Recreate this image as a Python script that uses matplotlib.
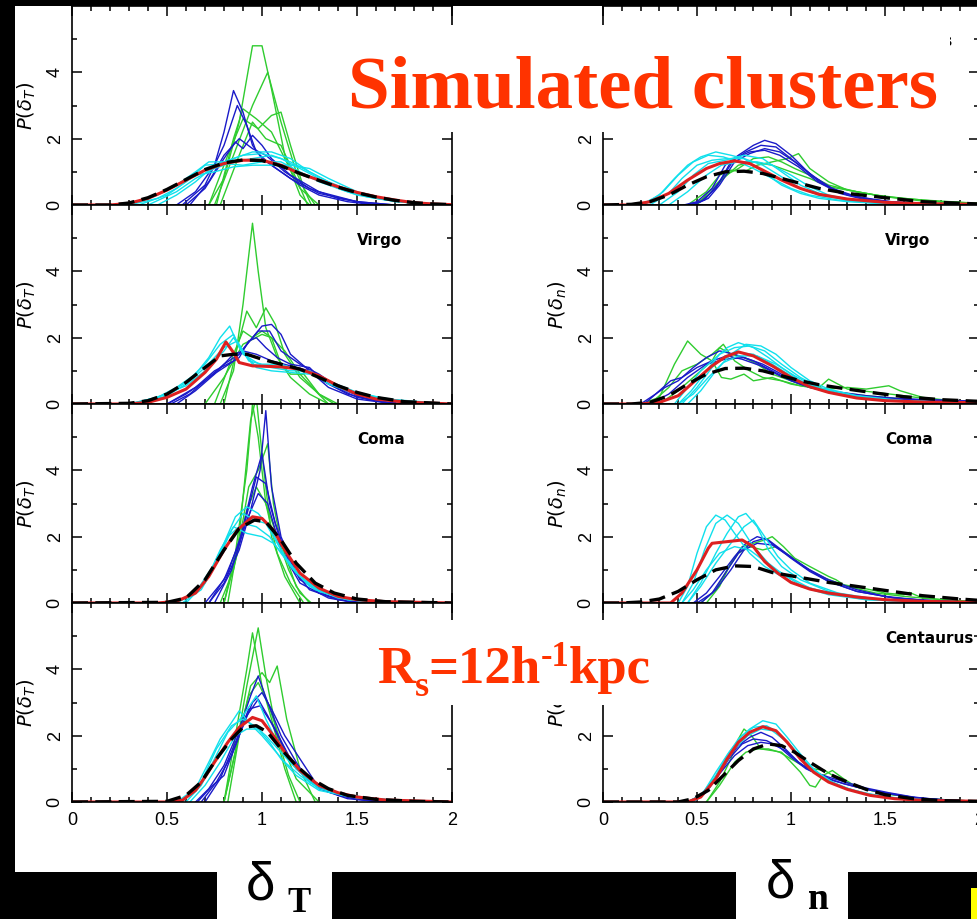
import matplotlib
matplotlib.use('Agg')
import matplotlib.pyplot as plt
from matplotlib.patches import Rectangle
from matplotlib.ticker import FixedLocator, MultipleLocator

plt.rcParams['font.family'] = ['Liberation Sans', 'DejaVu Sans']

# ---------------- data ----------------
PANEL_NAMES = ['Perseus', 'Virgo', 'Coma', 'Centaurus']
XTICKS = [0, 0.5, 1, 1.5, 2]
XTICK_LABELS = ['0', '0.5', '1', '1.5', '2']
YTICKS = [0, 2, 4]
YTICK_LABELS = ['0', '2', '4']

# ---- left column: P(delta_T) ----
L1_GREEN = [
    [(0.72, 0), (0.8, 0.8), (0.88, 2.5), (0.95, 4.8), (1.0, 4.8), (1.05, 3.5), (1.12, 1.5), (1.2, 0.3), (1.25, 0)],
    [(0.75, 0), (0.85, 1.5), (0.95, 3.0), (1.03, 4.0), (1.1, 2.5), (1.18, 1.0), (1.26, 0)],
    [(0.72, 0), (0.82, 1.5), (0.9, 2.6), (0.98, 2.3), (1.05, 2.7), (1.1, 2.8), (1.15, 1.8), (1.22, 0.5), (1.28, 0)],
    [(0.76, 0), (0.85, 2.0), (0.9, 2.9), (0.97, 2.6), (1.05, 2.2), (1.12, 1.4), (1.2, 0.5), (1.3, 0)],
    [(0.78, 0), (0.88, 1.5), (0.95, 2.5), (1.02, 2.0), (1.1, 1.8), (1.18, 0.8), (1.24, 0)],
]
L1_BLUE = [
    [(0.55, 0), (0.65, 0.4), (0.75, 1.2), (0.8, 2.2), (0.85, 3.45), (0.9, 2.8), (0.95, 1.8), (1.0, 1.4), (1.1, 1.0), (1.2, 0.6), (1.3, 0.3), (1.45, 0.1), (1.6, 0)],
    [(0.58, 0), (0.7, 0.6), (0.8, 1.8), (0.87, 3.0), (0.92, 2.4), (0.97, 1.6), (1.05, 1.2), (1.15, 0.8), (1.3, 0.35), (1.5, 0.1), (1.7, 0)],
    [(0.6, 0), (0.7, 0.5), (0.8, 1.4), (0.86, 1.9), (0.9, 1.7), (0.95, 2.1), (1.0, 1.8), (1.05, 1.4), (1.15, 0.9), (1.3, 0.4), (1.5, 0.1), (1.7, 0)],
    [(0.62, 0), (0.72, 0.7), (0.8, 1.5), (0.88, 2.0), (0.95, 1.7), (1.02, 1.5), (1.12, 1.0), (1.25, 0.5), (1.4, 0.2), (1.6, 0)],
]
L1_CYAN = [
    [(0.0, 0), (0.3, 0), (0.45, 0.3), (0.55, 0.6), (0.65, 1.0), (0.72, 1.3), (0.8, 1.3), (0.9, 1.5), (1.0, 1.55), (1.1, 1.4), (1.2, 1.1), (1.3, 0.8), (1.4, 0.5), (1.5, 0.3), (1.65, 0.15), (1.8, 0.05), (2.0, 0)],
    [(0.35, 0), (0.5, 0.3), (0.6, 0.7), (0.7, 1.2), (0.8, 1.25), (0.9, 1.2), (1.0, 1.3), (1.1, 1.3), (1.2, 1.0), (1.3, 0.7), (1.45, 0.4), (1.6, 0.2), (1.8, 0.05), (2.0, 0)],
    [(0.4, 0), (0.55, 0.4), (0.65, 0.8), (0.75, 1.1), (0.85, 1.3), (0.95, 1.4), (1.05, 1.5), (1.15, 1.3), (1.25, 1.0), (1.35, 0.7), (1.5, 0.35), (1.7, 0.1), (2.0, 0)],
    [(0.3, 0), (0.45, 0.2), (0.55, 0.5), (0.65, 0.9), (0.75, 1.0), (0.85, 1.15), (0.95, 1.2), (1.05, 1.2), (1.15, 1.2), (1.25, 1.1), (1.35, 0.8), (1.5, 0.4), (1.7, 0.12), (2.0, 0)],
    [(0.45, 0), (0.55, 0.3), (0.65, 0.7), (0.75, 1.2), (0.85, 1.4), (0.95, 1.6), (1.05, 1.6), (1.15, 1.4), (1.25, 1.0), (1.4, 0.55), (1.55, 0.25), (1.75, 0.08), (2.0, 0)],
]
L1_RED = [(0.0, 0), (0.2, 0), (0.3, 0.05), (0.4, 0.2), (0.5, 0.45), (0.6, 0.75), (0.7, 1.05), (0.8, 1.25), (0.9, 1.35), (1.0, 1.35), (1.1, 1.2), (1.2, 0.95), (1.3, 0.75), (1.4, 0.55), (1.5, 0.38), (1.6, 0.25), (1.7, 0.15), (1.8, 0.07), (1.9, 0.03), (2.0, 0.01)]
L1_BLACK = [(0.0, 0), (0.2, 0), (0.3, 0.06), (0.4, 0.22), (0.5, 0.47), (0.6, 0.77), (0.7, 1.07), (0.8, 1.27), (0.9, 1.36), (1.0, 1.34), (1.1, 1.18), (1.2, 0.95), (1.3, 0.74), (1.4, 0.54), (1.5, 0.37), (1.6, 0.24), (1.7, 0.14), (1.8, 0.07), (1.9, 0.03), (2.0, 0.01)]

L2_GREEN = [
    [(0.78, 0), (0.85, 1.0), (0.9, 3.0), (0.95, 5.45), (0.98, 4.0), (1.02, 2.3), (1.08, 1.4), (1.15, 0.8), (1.25, 0.3), (1.35, 0)],
    [(0.8, 0), (0.86, 1.5), (0.92, 2.8), (0.97, 2.3), (1.02, 2.9), (1.07, 2.4), (1.12, 1.5), (1.2, 0.8), (1.28, 0.4), (1.35, 0)],
    [(0.75, 0), (0.85, 1.5), (0.9, 2.2), (0.95, 2.0), (1.0, 2.2), (1.05, 2.0), (1.1, 1.2), (1.15, 0.9), (1.22, 0.9), (1.3, 0.3), (1.38, 0)],
    [(0.7, 0), (0.8, 0.8), (0.9, 1.8), (1.0, 2.1), (1.05, 2.0), (1.12, 1.6), (1.2, 0.9), (1.3, 0.3), (1.4, 0)],
]
L2_BLUE = [
    [(0.5, 0), (0.6, 0.3), (0.7, 0.7), (0.8, 1.2), (0.88, 1.5), (0.95, 2.0), (1.0, 2.35), (1.05, 2.4), (1.1, 2.1), (1.15, 1.5), (1.25, 1.0), (1.35, 0.5), (1.5, 0.15), (1.7, 0)],
    [(0.52, 0), (0.62, 0.3), (0.72, 0.8), (0.8, 1.1), (0.88, 1.4), (0.93, 1.9), (0.97, 2.0), (1.02, 1.7), (1.08, 1.4), (1.15, 1.2), (1.25, 1.1), (1.32, 0.7), (1.45, 0.3), (1.6, 0.1), (1.75, 0)],
    [(0.5, 0), (0.65, 0.5), (0.75, 1.0), (0.85, 1.3), (0.92, 1.8), (0.98, 2.2), (1.04, 2.2), (1.1, 1.6), (1.2, 1.2), (1.3, 0.9), (1.4, 0.5), (1.55, 0.15), (1.7, 0)],
    [(0.55, 0), (0.65, 0.4), (0.75, 0.9), (0.85, 1.5), (0.9, 1.6), (0.97, 1.5), (1.05, 1.3), (1.15, 1.15), (1.25, 1.0), (1.35, 0.6), (1.5, 0.2), (1.7, 0)],
]
L2_CYAN = [
    [(0.0, 0), (0.3, 0), (0.45, 0.2), (0.55, 0.5), (0.65, 0.9), (0.72, 1.4), (0.78, 2.0), (0.83, 2.35), (0.88, 1.7), (0.95, 1.2), (1.05, 1.1), (1.15, 1.0), (1.25, 1.0), (1.35, 0.6), (1.5, 0.3), (1.7, 0.1), (2.0, 0)],
    [(0.32, 0), (0.5, 0.3), (0.6, 0.65), (0.7, 1.2), (0.78, 1.8), (0.85, 2.1), (0.9, 1.5), (1.0, 1.15), (1.1, 1.1), (1.2, 1.05), (1.3, 0.8), (1.45, 0.4), (1.65, 0.15), (2.0, 0)],
    [(0.35, 0), (0.5, 0.25), (0.6, 0.6), (0.7, 1.1), (0.8, 1.7), (0.87, 1.9), (0.93, 1.3), (1.0, 1.2), (1.1, 1.2), (1.2, 1.0), (1.3, 0.85), (1.4, 0.55), (1.55, 0.25), (1.8, 0.05), (2.0, 0)],
    [(0.3, 0), (0.45, 0.2), (0.6, 0.55), (0.7, 1.0), (0.8, 1.6), (0.85, 2.0), (0.9, 1.6), (0.97, 1.1), (1.05, 1.0), (1.15, 0.95), (1.25, 0.9), (1.35, 0.7), (1.5, 0.35), (1.7, 0.1), (2.0, 0)],
]
L2_RED = [(0.0, 0), (0.3, 0), (0.4, 0.05), (0.5, 0.2), (0.6, 0.45), (0.7, 0.95), (0.76, 1.35), (0.81, 1.87), (0.85, 1.55), (0.88, 1.25), (0.95, 1.15), (1.1, 1.12), (1.2, 1.05), (1.3, 0.85), (1.4, 0.55), (1.5, 0.3), (1.6, 0.15), (1.75, 0.06), (2.0, 0)]
L2_BLACK = [(0.0, 0), (0.3, 0.02), (0.4, 0.1), (0.5, 0.3), (0.6, 0.65), (0.7, 1.1), (0.78, 1.45), (0.85, 1.5), (0.92, 1.5), (1.0, 1.35), (1.1, 1.2), (1.2, 1.05), (1.3, 0.8), (1.4, 0.55), (1.5, 0.35), (1.6, 0.2), (1.75, 0.07), (2.0, 0)]

L3_GREEN = [
    [(0.8, 0), (0.86, 1.5), (0.92, 4.0), (0.95, 6.0), (0.98, 5.0), (1.02, 3.0), (1.08, 1.5), (1.15, 0.6), (1.22, 0)],
    [(0.82, 0), (0.88, 2.0), (0.94, 5.5), (0.97, 6.2), (1.0, 4.5), (1.05, 2.0), (1.12, 0.8), (1.2, 0)],
    [(0.8, 0), (0.87, 1.5), (0.93, 3.5), (0.98, 4.0), (1.03, 4.8), (1.06, 3.0), (1.1, 1.8), (1.18, 0.5), (1.25, 0)],
    [(0.78, 0), (0.85, 1.0), (0.92, 2.8), (0.97, 3.5), (1.02, 3.0), (1.08, 2.0), (1.14, 1.0), (1.2, 0.3), (1.26, 0)],
]
L3_BLUE = [
    [(0.72, 0), (0.8, 0.6), (0.88, 1.6), (0.94, 2.8), (0.99, 4.0), (1.02, 5.8), (1.05, 3.5), (1.1, 2.0), (1.18, 0.9), (1.3, 0.3), (1.45, 0.05), (1.6, 0)],
    [(0.7, 0), (0.8, 0.7), (0.88, 1.8), (0.95, 3.5), (1.0, 4.5), (1.04, 3.0), (1.1, 1.8), (1.2, 0.7), (1.35, 0.2), (1.5, 0)],
    [(0.72, 0), (0.82, 0.9), (0.9, 2.2), (0.97, 3.8), (1.02, 3.6), (1.07, 2.4), (1.15, 1.1), (1.25, 0.4), (1.4, 0.1), (1.55, 0)],
    [(0.75, 0), (0.84, 1.0), (0.92, 2.5), (0.98, 3.3), (1.03, 3.0), (1.1, 1.6), (1.2, 0.6), (1.35, 0.15), (1.5, 0)],
]
L3_CYAN = [
    [(0.0, 0), (0.55, 0), (0.65, 0.3), (0.72, 0.8), (0.8, 1.8), (0.86, 2.6), (0.92, 2.9), (0.98, 2.7), (1.05, 2.2), (1.12, 1.4), (1.2, 0.8), (1.3, 0.4), (1.45, 0.15), (1.6, 0.05), (1.8, 0), (2.0, 0)],
    [(0.58, 0), (0.68, 0.4), (0.76, 1.2), (0.84, 2.2), (0.9, 2.7), (0.96, 2.5), (1.02, 2.4), (1.08, 1.8), (1.15, 1.1), (1.25, 0.5), (1.4, 0.15), (1.6, 0)],
    [(0.6, 0), (0.7, 0.6), (0.78, 1.6), (0.85, 2.3), (0.92, 2.1), (1.0, 2.0), (1.06, 1.8), (1.12, 1.4), (1.2, 0.8), (1.3, 0.35), (1.45, 0.1), (1.65, 0)],
    [(0.55, 0), (0.66, 0.4), (0.74, 1.1), (0.82, 2.0), (0.9, 2.4), (0.97, 2.3), (1.04, 2.0), (1.1, 1.5), (1.18, 0.9), (1.28, 0.4), (1.45, 0.1), (1.7, 0)],
]
L3_RED = [(0.0, 0), (0.45, 0), (0.55, 0.05), (0.65, 0.3), (0.72, 0.8), (0.8, 1.6), (0.87, 2.2), (0.95, 2.6), (1.0, 2.55), (1.06, 2.2), (1.12, 1.6), (1.2, 0.9), (1.3, 0.45), (1.4, 0.2), (1.5, 0.1), (1.65, 0.04), (2.0, 0)]
L3_BLACK = [(0.0, 0), (0.5, 0.02), (0.6, 0.15), (0.7, 0.7), (0.8, 1.6), (0.88, 2.25), (0.96, 2.5), (1.02, 2.45), (1.1, 1.9), (1.18, 1.2), (1.28, 0.6), (1.38, 0.3), (1.5, 0.12), (1.65, 0.04), (2.0, 0)]

L4_GREEN = [
    [(0.8, 0), (0.86, 1.5), (0.92, 3.5), (0.98, 5.25), (1.02, 3.8), (1.08, 2.0), (1.14, 0.8), (1.2, 0)],
    [(0.8, 0), (0.86, 2.0), (0.92, 4.0), (0.95, 5.1), (1.0, 3.5), (1.05, 2.5), (1.12, 1.0), (1.18, 0)],
    [(0.82, 0), (0.88, 2.0), (0.94, 3.5), (1.0, 3.9), (1.04, 3.6), (1.08, 4.1), (1.13, 2.5), (1.2, 1.0), (1.28, 0)],
    [(0.8, 0), (0.87, 1.8), (0.93, 3.2), (0.98, 3.6), (1.03, 3.0), (1.1, 1.8), (1.18, 0.7), (1.3, 0)],
]
L4_BLUE = [
    [(0.65, 0), (0.72, 0.4), (0.8, 1.1), (0.88, 2.2), (0.94, 3.2), (0.98, 3.8), (1.03, 3.0), (1.1, 2.0), (1.18, 1.2), (1.25, 0.6), (1.35, 0.3), (1.5, 0.08), (1.7, 0)],
    [(0.66, 0), (0.74, 0.5), (0.8, 0.8), (0.88, 2.0), (0.95, 3.0), (1.0, 3.3), (1.05, 2.8), (1.12, 2.0), (1.2, 1.3), (1.28, 0.6), (1.4, 0.2), (1.6, 0)],
    [(0.68, 0), (0.76, 0.6), (0.84, 1.4), (0.92, 2.6), (0.98, 3.1), (1.03, 2.6), (1.1, 1.8), (1.18, 1.0), (1.3, 0.4), (1.45, 0.1), (1.65, 0)],
    [(0.7, 0), (0.78, 0.7), (0.86, 1.8), (0.93, 2.8), (0.99, 2.9), (1.06, 2.3), (1.14, 1.4), (1.24, 0.7), (1.35, 0.3), (1.5, 0.08), (1.7, 0)],
]
L4_CYAN = [
    [(0.0, 0), (0.55, 0), (0.65, 0.4), (0.72, 1.2), (0.78, 1.9), (0.84, 2.4), (0.88, 2.75), (0.93, 2.4), (1.0, 2.0), (1.06, 1.6), (1.12, 1.2), (1.2, 0.8), (1.3, 0.4), (1.45, 0.2), (1.6, 0.1), (1.8, 0.03), (2.0, 0)],
    [(0.6, 0), (0.68, 0.5), (0.75, 1.3), (0.82, 2.1), (0.9, 2.6), (0.97, 3.2), (1.02, 2.5), (1.08, 1.8), (1.15, 1.2), (1.25, 0.6), (1.4, 0.25), (1.6, 0.1), (1.8, 0)],
    [(0.58, 0), (0.68, 0.6), (0.76, 1.6), (0.84, 2.3), (0.9, 2.5), (0.96, 2.3), (1.02, 2.0), (1.1, 1.5), (1.18, 1.0), (1.28, 0.5), (1.42, 0.2), (1.6, 0.08), (1.8, 0)],
    [(0.62, 0), (0.7, 0.5), (0.78, 1.2), (0.86, 2.0), (0.92, 2.2), (0.98, 2.2), (1.04, 1.8), (1.1, 1.3), (1.18, 0.8), (1.3, 0.35), (1.5, 0.12), (1.7, 0.04), (2.0, 0)],
]
L4_RED = [(0.0, 0), (0.5, 0), (0.58, 0.05), (0.65, 0.35), (0.7, 0.75), (0.75, 1.2), (0.82, 1.8), (0.88, 2.25), (0.95, 2.55), (1.0, 2.45), (1.06, 2.0), (1.12, 1.5), (1.2, 0.95), (1.3, 0.5), (1.4, 0.28), (1.5, 0.15), (1.65, 0.06), (2.0, 0)]
L4_BLACK = [(0.0, 0), (0.5, 0.02), (0.6, 0.2), (0.68, 0.6), (0.76, 1.3), (0.84, 1.9), (0.9, 2.25), (0.97, 2.3), (1.03, 2.1), (1.1, 1.6), (1.18, 1.1), (1.26, 0.7), (1.35, 0.4), (1.45, 0.2), (1.6, 0.08), (1.8, 0.02), (2.0, 0)]

# ---- right column: P(delta_n) ----
R1_GREEN = [
    [(0.45, 0), (0.55, 0.4), (0.62, 0.9), (0.68, 1.05), (0.75, 1.0), (0.82, 1.2), (0.9, 1.3), (0.98, 1.4), (1.04, 1.55), (1.1, 1.1), (1.2, 0.7), (1.3, 0.45), (1.45, 0.3), (1.6, 0.2), (1.8, 0.1), (2.0, 0.05)],
    [(0.5, 0), (0.58, 0.5), (0.65, 0.9), (0.72, 1.1), (0.8, 1.4), (0.88, 1.45), (0.95, 1.3), (1.02, 1.1), (1.1, 0.9), (1.2, 0.6), (1.35, 0.4), (1.5, 0.25), (1.7, 0.15), (2.0, 0.05)],
    [(0.48, 0), (0.56, 0.3), (0.64, 0.8), (0.72, 1.2), (0.8, 1.3), (0.9, 1.2), (1.0, 1.0), (1.1, 0.8), (1.2, 0.55), (1.35, 0.4), (1.5, 0.25), (1.7, 0.12), (2.0, 0.04)],
]
R1_BLUE = [
    [(0.43, 0), (0.5, 0.1), (0.58, 0.5), (0.65, 1.2), (0.72, 1.5), (0.8, 1.8), (0.86, 1.95), (0.92, 1.85), (1.0, 1.5), (1.08, 1.05), (1.15, 0.7), (1.25, 0.4), (1.4, 0.18), (1.6, 0.06), (2.0, 0)],
    [(0.45, 0), (0.52, 0.1), (0.6, 0.5), (0.68, 1.3), (0.76, 1.6), (0.84, 1.8), (0.92, 1.75), (1.0, 1.4), (1.1, 0.95), (1.2, 0.55), (1.3, 0.3), (1.5, 0.1), (2.0, 0)],
    [(0.48, 0), (0.56, 0.2), (0.62, 0.6), (0.7, 1.3), (0.78, 1.55), (0.86, 1.7), (0.94, 1.6), (1.02, 1.3), (1.12, 0.85), (1.22, 0.5), (1.35, 0.25), (1.55, 0.08), (2.0, 0)],
    [(0.46, 0), (0.54, 0.15), (0.62, 0.7), (0.7, 1.4), (0.78, 1.6), (0.86, 1.65), (0.94, 1.5), (1.04, 1.15), (1.14, 0.7), (1.26, 0.35), (1.4, 0.15), (1.6, 0.05), (2.0, 0)],
]
R1_CYAN = [
    [(0.0, 0), (0.2, 0), (0.3, 0.3), (0.38, 0.8), (0.45, 1.2), (0.52, 1.45), (0.6, 1.6), (0.68, 1.5), (0.75, 1.4), (0.85, 1.0), (0.95, 0.6), (1.05, 0.35), (1.15, 0.2), (1.3, 0.1), (1.5, 0.04), (2.0, 0)],
    [(0.22, 0), (0.32, 0.4), (0.4, 0.9), (0.48, 1.3), (0.56, 1.5), (0.64, 1.45), (0.72, 1.3), (0.8, 1.1), (0.9, 0.8), (1.0, 0.5), (1.1, 0.3), (1.25, 0.15), (1.45, 0.05), (2.0, 0)],
    [(0.25, 0), (0.35, 0.35), (0.42, 0.8), (0.5, 1.2), (0.58, 1.35), (0.66, 1.4), (0.75, 1.4), (0.85, 1.2), (0.95, 0.85), (1.05, 0.5), (1.15, 0.3), (1.3, 0.15), (1.5, 0.05), (2.0, 0)],
    [(0.3, 0), (0.4, 0.4), (0.48, 0.9), (0.56, 1.25), (0.65, 1.35), (0.75, 1.5), (0.85, 1.4), (0.95, 1.0), (1.05, 0.6), (1.15, 0.35), (1.3, 0.15), (1.5, 0.05), (2.0, 0)],
    [(0.35, 0), (0.45, 0.4), (0.55, 0.9), (0.63, 1.2), (0.72, 1.3), (0.82, 1.3), (0.9, 1.2), (1.0, 0.9), (1.1, 0.55), (1.2, 0.3), (1.35, 0.12), (1.6, 0.03), (2.0, 0)],
]
R1_RED = [(0.0, 0), (0.15, 0), (0.25, 0.1), (0.35, 0.35), (0.45, 0.75), (0.55, 1.1), (0.62, 1.25), (0.7, 1.33), (0.78, 1.25), (0.85, 1.05), (0.95, 0.75), (1.05, 0.5), (1.15, 0.32), (1.3, 0.18), (1.5, 0.08), (1.7, 0.04), (2.0, 0.02)]
R1_BLACK = [(0.0, 0), (0.15, 0.02), (0.25, 0.1), (0.35, 0.3), (0.45, 0.6), (0.55, 0.85), (0.65, 1.0), (0.75, 1.02), (0.85, 0.95), (0.95, 0.8), (1.05, 0.65), (1.15, 0.5), (1.3, 0.35), (1.5, 0.22), (1.7, 0.1), (2.0, 0.03)]

R2_GREEN = [
    [(0.2, 0), (0.3, 0.2), (0.38, 1.2), (0.45, 1.9), (0.52, 1.5), (0.58, 1.3), (0.62, 1.7), (0.68, 1.5), (0.75, 1.4), (0.82, 1.2), (0.9, 0.9), (1.0, 0.7), (1.1, 0.5), (1.2, 0.45), (1.3, 0.5), (1.4, 0.45), (1.52, 0.55), (1.58, 0.4), (1.7, 0.2), (1.85, 0.1), (2.0, 0.05)],
    [(0.25, 0), (0.35, 0.5), (0.42, 1.0), (0.5, 1.2), (0.58, 1.5), (0.64, 1.8), (0.7, 1.3), (0.78, 1.0), (0.85, 0.8), (0.95, 0.7), (1.05, 0.55), (1.15, 0.5), (1.2, 0.75), (1.3, 0.45), (1.45, 0.35), (1.6, 0.25), (1.8, 0.1), (2.0, 0.05)],
    [(0.3, 0), (0.4, 0.4), (0.5, 0.9), (0.58, 1.3), (0.63, 0.8), (0.68, 0.75), (0.75, 0.9), (0.8, 0.7), (0.9, 0.8), (1.0, 0.6), (1.1, 0.5), (1.25, 0.35), (1.4, 0.25), (1.6, 0.15), (1.8, 0.08), (2.0, 0.03)],
]
R2_BLUE = [
    [(0.2, 0), (0.28, 0.3), (0.33, 0.5), (0.4, 0.7), (0.48, 1.1), (0.55, 1.4), (0.62, 1.6), (0.7, 1.5), (0.8, 1.3), (0.9, 1.0), (1.0, 0.7), (1.1, 0.5), (1.25, 0.3), (1.4, 0.2), (1.6, 0.15), (1.8, 0.12), (2.0, 0.08)],
    [(0.22, 0), (0.3, 0.4), (0.36, 0.7), (0.42, 0.8), (0.5, 1.1), (0.58, 1.3), (0.66, 1.45), (0.74, 1.35), (0.84, 1.15), (0.94, 0.85), (1.05, 0.6), (1.2, 0.35), (1.4, 0.2), (1.6, 0.15), (1.8, 0.1), (2.0, 0.08)],
    [(0.25, 0), (0.35, 0.3), (0.45, 0.8), (0.55, 1.2), (0.65, 1.35), (0.75, 1.4), (0.85, 1.2), (0.95, 0.9), (1.05, 0.65), (1.2, 0.4), (1.4, 0.25), (1.6, 0.15), (1.8, 0.1), (2.0, 0.07)],
]
R2_CYAN = [
    [(0.0, 0), (0.38, 0), (0.45, 0.5), (0.52, 1.0), (0.6, 1.4), (0.66, 1.7), (0.72, 1.85), (0.8, 1.7), (0.88, 1.4), (0.95, 1.1), (1.05, 0.7), (1.15, 0.45), (1.3, 0.25), (1.5, 0.12), (1.8, 0.05), (2.0, 0.02)],
    [(0.4, 0), (0.47, 0.4), (0.55, 1.0), (0.62, 1.5), (0.7, 1.7), (0.78, 1.75), (0.86, 1.6), (0.95, 1.2), (1.05, 0.8), (1.15, 0.5), (1.3, 0.28), (1.5, 0.12), (2.0, 0.02)],
    [(0.42, 0), (0.5, 0.5), (0.58, 1.1), (0.65, 1.45), (0.72, 1.55), (0.8, 1.5), (0.9, 1.2), (1.0, 0.85), (1.1, 0.55), (1.25, 0.3), (1.45, 0.12), (1.7, 0.05), (2.0, 0.02)],
    [(0.4, 0), (0.48, 0.3), (0.56, 0.8), (0.64, 1.25), (0.72, 1.45), (0.82, 1.45), (0.92, 1.2), (1.02, 0.85), (1.12, 0.55), (1.25, 0.3), (1.45, 0.14), (1.7, 0.05), (2.0, 0.02)],
    [(0.45, 0), (0.52, 0.4), (0.6, 1.0), (0.68, 1.5), (0.76, 1.8), (0.84, 1.75), (0.92, 1.5), (1.0, 1.1), (1.1, 0.7), (1.2, 0.45), (1.35, 0.25), (1.6, 0.1), (2.0, 0.02)],
]
R2_RED = [(0.0, 0), (0.2, 0), (0.3, 0.05), (0.4, 0.25), (0.5, 0.75), (0.58, 1.15), (0.65, 1.42), (0.72, 1.57), (0.8, 1.45), (0.9, 1.15), (1.0, 0.8), (1.1, 0.52), (1.2, 0.35), (1.35, 0.18), (1.5, 0.1), (1.7, 0.06), (2.0, 0.04)]
R2_BLACK = [(0.0, 0), (0.15, 0), (0.25, 0.05), (0.35, 0.25), (0.45, 0.6), (0.55, 0.9), (0.65, 1.07), (0.75, 1.08), (0.85, 1.0), (0.95, 0.85), (1.05, 0.7), (1.15, 0.58), (1.3, 0.45), (1.45, 0.33), (1.6, 0.22), (1.8, 0.13), (2.0, 0.08)]

R3_GREEN = [
    [(0.55, 0), (0.62, 0.5), (0.68, 1.2), (0.74, 1.7), (0.8, 1.8), (0.86, 1.9), (0.9, 2.0), (0.96, 1.7), (1.02, 1.35), (1.1, 1.1), (1.2, 0.8), (1.24, 0.7), (1.28, 0.55), (1.38, 0.45), (1.44, 0.38), (1.5, 0.3), (1.6, 0.25), (1.63, 0.32), (1.7, 0.15), (1.85, 0.08), (2.0, 0.03)],
    [(0.52, 0), (0.6, 0.4), (0.66, 1.0), (0.72, 1.5), (0.78, 1.7), (0.85, 1.6), (0.92, 1.7), (1.0, 1.4), (1.08, 1.05), (1.18, 0.75), (1.3, 0.5), (1.45, 0.3), (1.6, 0.2), (1.8, 0.1), (2.0, 0.04)],
]
R3_BLUE = [
    [(0.48, 0), (0.55, 0.3), (0.62, 0.8), (0.7, 1.4), (0.76, 1.8), (0.82, 2.0), (0.88, 1.9), (0.95, 1.6), (1.02, 1.3), (1.1, 1.0), (1.2, 0.7), (1.35, 0.4), (1.5, 0.2), (1.7, 0.08), (2.0, 0.02)],
    [(0.5, 0), (0.58, 0.3), (0.65, 0.9), (0.72, 1.5), (0.8, 1.85), (0.86, 1.95), (0.92, 1.7), (1.0, 1.35), (1.1, 0.95), (1.2, 0.65), (1.35, 0.35), (1.55, 0.15), (1.8, 0.05), (2.0, 0.02)],
    [(0.52, 0), (0.6, 0.4), (0.68, 1.0), (0.75, 1.6), (0.82, 1.8), (0.9, 1.75), (0.98, 1.45), (1.08, 1.05), (1.2, 0.65), (1.35, 0.35), (1.55, 0.15), (1.8, 0.05), (2.0, 0.02)],
]
R3_CYAN = [
    [(0.0, 0), (0.4, 0), (0.45, 0.5), (0.5, 1.5), (0.55, 2.3), (0.6, 2.65), (0.65, 2.5), (0.7, 2.1), (0.78, 1.5), (0.86, 1.1), (0.95, 0.8), (1.05, 0.5), (1.2, 0.25), (1.4, 0.1), (1.7, 0.03), (2.0, 0)],
    [(0.42, 0), (0.48, 0.6), (0.54, 1.6), (0.6, 2.4), (0.66, 2.65), (0.72, 2.4), (0.8, 1.7), (0.88, 1.2), (0.96, 0.85), (1.05, 0.55), (1.2, 0.28), (1.4, 0.1), (1.7, 0.03), (2.0, 0)],
    [(0.45, 0), (0.52, 0.6), (0.6, 1.5), (0.66, 2.1), (0.72, 2.6), (0.76, 2.7), (0.82, 2.3), (0.88, 1.6), (0.95, 1.1), (1.05, 0.7), (1.2, 0.35), (1.4, 0.12), (1.7, 0.03), (2.0, 0)],
    [(0.45, 0), (0.52, 0.5), (0.6, 1.2), (0.68, 1.8), (0.75, 2.3), (0.8, 2.5), (0.86, 2.0), (0.93, 1.4), (1.0, 1.0), (1.1, 0.6), (1.25, 0.3), (1.45, 0.12), (1.7, 0.04), (2.0, 0)],
    [(0.42, 0), (0.48, 0.4), (0.55, 1.0), (0.62, 1.5), (0.7, 1.7), (0.78, 1.6), (0.85, 1.3), (0.92, 1.0), (1.0, 0.75), (1.1, 0.45), (1.25, 0.25), (1.5, 0.08), (2.0, 0)],
]
R3_RED = [(0.0, 0), (0.36, 0), (0.42, 0.3), (0.5, 1.0), (0.56, 1.65), (0.58, 1.8), (0.66, 1.85), (0.74, 1.9), (0.8, 1.7), (0.86, 1.25), (0.93, 0.9), (1.0, 0.62), (1.1, 0.42), (1.2, 0.3), (1.35, 0.18), (1.5, 0.1), (1.7, 0.05), (2.0, 0.02)]
R3_BLACK = [(0.0, 0), (0.1, 0), (0.2, 0.03), (0.3, 0.12), (0.4, 0.35), (0.5, 0.7), (0.6, 1.0), (0.7, 1.12), (0.8, 1.1), (0.9, 0.92), (1.0, 0.82), (1.1, 0.72), (1.2, 0.62), (1.35, 0.5), (1.5, 0.38), (1.7, 0.22), (1.9, 0.12), (2.0, 0.08)]

R4_GREEN = [
    [(0.55, 0), (0.62, 0.6), (0.68, 1.3), (0.72, 1.9), (0.75, 2.2), (0.79, 2.0), (0.84, 1.6), (0.9, 1.55), (0.95, 1.5), (1.0, 1.2), (1.05, 0.9), (1.1, 0.5), (1.13, 0.45), (1.17, 0.8), (1.22, 0.95), (1.28, 0.7), (1.35, 0.45), (1.5, 0.25), (1.7, 0.1), (2.0, 0.02)],
    [(0.55, 0), (0.62, 0.5), (0.7, 1.2), (0.76, 1.5), (0.82, 1.6), (0.88, 1.6), (0.94, 1.5), (1.0, 1.3), (1.06, 1.1), (1.12, 1.0), (1.18, 0.95), (1.25, 0.7), (1.35, 0.45), (1.5, 0.25), (1.7, 0.1), (2.0, 0.02)],
]
R4_BLUE = [
    [(0.45, 0), (0.52, 0.2), (0.58, 0.6), (0.65, 1.2), (0.72, 1.7), (0.78, 1.95), (0.84, 2.1), (0.9, 1.95), (0.97, 1.6), (1.04, 1.2), (1.1, 0.95), (1.2, 0.75), (1.3, 0.58), (1.4, 0.42), (1.52, 0.28), (1.65, 0.15), (1.8, 0.06), (2.0, 0.02)],
    [(0.47, 0), (0.54, 0.25), (0.6, 0.7), (0.67, 1.3), (0.74, 1.75), (0.8, 1.9), (0.87, 1.85), (0.94, 1.65), (1.0, 1.35), (1.08, 1.0), (1.18, 0.75), (1.28, 0.55), (1.4, 0.38), (1.55, 0.22), (1.7, 0.1), (2.0, 0.02)],
    [(0.48, 0), (0.55, 0.3), (0.62, 0.85), (0.7, 1.4), (0.77, 1.7), (0.84, 1.8), (0.9, 1.75), (0.97, 1.55), (1.04, 1.2), (1.12, 0.9), (1.22, 0.65), (1.35, 0.45), (1.5, 0.28), (1.65, 0.14), (1.85, 0.05), (2.0, 0.02)],
]
R4_CYAN = [
    [(0.0, 0), (0.45, 0), (0.52, 0.2), (0.6, 0.8), (0.66, 1.4), (0.72, 1.9), (0.78, 2.2), (0.85, 2.45), (0.92, 2.35), (0.98, 1.95), (1.05, 1.45), (1.12, 1.0), (1.2, 0.65), (1.3, 0.4), (1.45, 0.2), (1.6, 0.1), (1.8, 0.04), (2.0, 0)],
    [(0.45, 0), (0.53, 0.25), (0.6, 0.9), (0.67, 1.5), (0.74, 2.0), (0.8, 2.25), (0.87, 2.3), (0.93, 2.1), (1.0, 1.7), (1.07, 1.25), (1.15, 0.85), (1.25, 0.5), (1.38, 0.28), (1.55, 0.12), (1.8, 0.04), (2.0, 0)],
    [(0.48, 0), (0.55, 0.3), (0.62, 0.9), (0.7, 1.6), (0.77, 2.0), (0.84, 2.2), (0.9, 2.15), (0.97, 1.85), (1.04, 1.4), (1.12, 0.95), (1.22, 0.6), (1.35, 0.3), (1.5, 0.15), (1.7, 0.05), (2.0, 0)],
]
R4_RED = [(0.0, 0), (0.45, 0), (0.52, 0.15), (0.6, 0.7), (0.66, 1.3), (0.72, 1.8), (0.78, 2.1), (0.85, 2.27), (0.92, 2.15), (0.98, 1.8), (1.05, 1.3), (1.12, 0.9), (1.2, 0.6), (1.3, 0.38), (1.42, 0.2), (1.55, 0.1), (1.7, 0.05), (2.0, 0.02)]
R4_BLACK = [(0.0, 0), (0.4, 0), (0.48, 0.1), (0.56, 0.35), (0.64, 0.8), (0.72, 1.25), (0.8, 1.6), (0.88, 1.75), (0.95, 1.7), (1.02, 1.5), (1.1, 1.2), (1.2, 0.85), (1.3, 0.6), (1.4, 0.38), (1.5, 0.22), (1.65, 0.1), (1.8, 0.04), (2.0, 0.02)]

# ---------------- layout / style ----------------
W, H = 977, 919
GREEN, BLUE, CYAN, RED = '#2fcc2f', '#1a1ac8', '#10e0ec', '#dd2020'
ORANGE = '#ff3300'

fig = plt.figure(figsize=(W / 100, H / 100), dpi=100, facecolor='black')
renderer = fig.canvas.get_renderer()


def frac_rect(x0, y0, x1, y1):
    return (x0 / W, 1 - y1 / H, (x1 - x0) / W, (y1 - y0) / H)


def add_box(x0, y0, x1, y1, color='white', z=3):
    r = Rectangle((x0 / W, 1 - y1 / H), (x1 - x0) / W, (y1 - y0) / H,
                  transform=fig.transFigure, facecolor=color, edgecolor='none', zorder=z)
    fig.add_artist(r)


def ftext(x, y, s, **kw):
    return fig.text(x / W, 1 - y / H, s, **kw)


# white slide area
add_box(15, 6, 977, 872, z=-1)

columns = [
    (72, 452, r'$P(\delta_T)$',
     [(L1_GREEN, L1_BLUE, L1_CYAN, L1_RED, L1_BLACK),
      (L2_GREEN, L2_BLUE, L2_CYAN, L2_RED, L2_BLACK),
      (L3_GREEN, L3_BLUE, L3_CYAN, L3_RED, L3_BLACK),
      (L4_GREEN, L4_BLUE, L4_CYAN, L4_RED, L4_BLACK)]),
    (603, 979, r'$P(\delta_n)$',
     [(R1_GREEN, R1_BLUE, R1_CYAN, R1_RED, R1_BLACK),
      (R2_GREEN, R2_BLUE, R2_CYAN, R2_RED, R2_BLACK),
      (R3_GREEN, R3_BLUE, R3_CYAN, R3_RED, R3_BLACK),
      (R4_GREEN, R4_BLUE, R4_CYAN, R4_RED, R4_BLACK)]),
]
ZERO_PX = [205, 404, 603, 802]
PANEL_H = 199

for (x0, x1, ylab, panels) in columns:
    for row, (greens, blues, cyans, red, black) in enumerate(panels):
        zero = ZERO_PX[row]
        ax = fig.add_axes(frac_rect(x0, zero - PANEL_H, x1, zero))
        ax.set_facecolor('white')
        for grp, col in ((greens, GREEN), (blues, BLUE), (cyans, CYAN)):
            for cur in grp:
                xs, ys = zip(*cur)
                ax.plot(xs, ys, color=col, lw=1.0)
        xs, ys = zip(*red)
        ax.plot(xs, ys, color=RED, lw=2.2)
        xs, ys = zip(*black)
        ax.plot(xs, ys, color='black', lw=2.4, dashes=(4.8, 2.2))
        ax.set_xlim(0, 2)
        ax.set_ylim(0, 6)
        ax.xaxis.set_major_locator(FixedLocator(XTICKS))
        ax.xaxis.set_minor_locator(MultipleLocator(0.1))
        ax.yaxis.set_major_locator(FixedLocator(YTICKS))
        ax.yaxis.set_minor_locator(FixedLocator([1, 3, 5]))
        ax.set_yticklabels(YTICK_LABELS)
        ax.tick_params(which='both', direction='in', top=True, right=True, width=1.1, color='black')
        ax.tick_params(which='major', length=7)
        ax.tick_params(which='minor', length=3.5)
        ax.tick_params(axis='y', labelrotation=90, labelsize=13, pad=6)
        ax.tick_params(axis='x', labelsize=13, pad=7)
        for lab in ax.get_yticklabels():
            lab.set_verticalalignment('center')
        if row == 3:
            ax.set_xticklabels(XTICK_LABELS)
        else:
            ax.set_xticklabels([])
        for sp in ax.spines.values():
            sp.set_linewidth(1.2)
        ax.set_ylabel(ylab, fontsize=14, labelpad=6)
        ax.text(1.5, 4.8, PANEL_NAMES[row], fontsize=11, fontweight='bold',
                family='DejaVu Sans', ha='left', va='baseline')

# overlay boxes with titles
add_box(335, 25, 950, 132, z=3)
ftext(348, 108, 'Simulated clusters', fontsize=54, fontweight='bold', family='Liberation Serif',
      color=ORANGE, ha='left', va='baseline', zorder=4)
add_box(352, 620, 660, 705, z=3)

# "Rs=12h-1kpc" built from pieces (main, subscript, superscript)
RS_PIECES = [('R', 38, 0), ('s', 26, 13), ('=12h', 38, 0), ('-1', 25, -17), ('kpc', 38, 0)]
cx = 377
for s, size, dy in RS_PIECES:
    t = ftext(cx, 683 + dy, s, fontsize=size, fontweight='bold', family='Liberation Serif',
              color=ORANGE, ha='left', va='baseline', zorder=4)
    bb = t.get_window_extent(renderer=renderer)
    cx += bb.width - (1 if s == 's' else 0)

# axis-name boxes at the bottom
add_box(217, 872, 332, 919, z=3)
add_box(736, 872, 848, 919, z=3)
add_box(971, 888, 977, 919, color='#ffff00', z=3)
ftext(246, 900, 'δ', fontsize=38, family='Liberation Sans', ha='left', va='baseline', zorder=4)
ftext(287, 912, 'T', fontsize=25, family='Liberation Serif', fontweight='bold', ha='left', va='baseline', zorder=4)
ftext(766, 898, 'δ', fontsize=38, family='Liberation Sans', ha='left', va='baseline', zorder=4)
ftext(808, 909, 'n', fontsize=27, family='Liberation Serif', fontweight='bold', ha='left', va='baseline', zorder=4)

fig.savefig('out.png', dpi=100, facecolor='black')
